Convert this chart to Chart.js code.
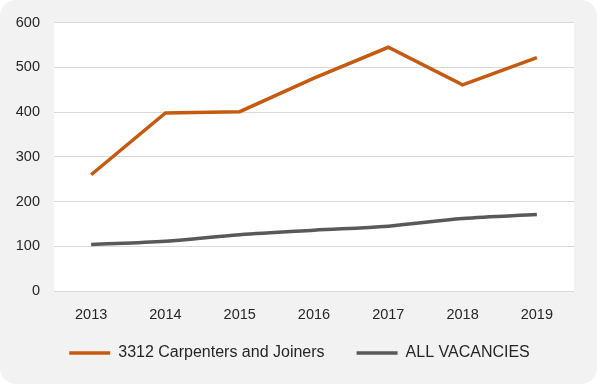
<!DOCTYPE html>
<html>
<head>
<meta charset="utf-8">
<script src="https://cdn.jsdelivr.net/npm/chart.js@4.4.1/dist/chart.umd.min.js"></script>
<style>
  html, body { margin: 0; padding: 0; background: #fff; }
  #wrap { width: 597px; height: 384px; background: #f2f2f2; border-radius: 16px; }
</style>
</head>
<body>
<div id="wrap"><canvas id="chart" width="597" height="384"></canvas></div>
<script>
// chart data
var years = ["2013", "2014", "2015", "2016", "2017", "2018", "2019"];
var carpenters = [260, 398, 401, 476, 545, 461, 522];
var allVacancies = [104, 111, 126, 136, 145, 162, 171];
var yTicks = [0, 100, 200, 300, 400, 500, 600];

// white plot area behind the lines
var plotFill = {
  id: "plotFill",
  beforeDraw: function (chart) {
    var a = chart.chartArea;
    var ctx = chart.ctx;
    ctx.save();
    ctx.fillStyle = "#ffffff";
    ctx.fillRect(a.left, a.top, a.right - a.left, a.bottom - a.top);
    ctx.restore();
  }
};

var tickFont = { family: "'Liberation Sans', Arial, sans-serif", size: 14.5 };
var legendFont = { family: "'Liberation Sans', Arial, sans-serif", size: 16 };

new Chart(document.getElementById("chart"), {
  type: "line",
  data: {
    labels: years,
    datasets: [
      {
        label: "3312 Carpenters and Joiners",
        data: carpenters,
        borderColor: "#c55a11",
        backgroundColor: "#c55a11",
        borderWidth: 3.5,
        pointRadius: 0,
        tension: 0
      },
      {
        label: "ALL VACANCIES",
        data: allVacancies,
        borderColor: "#595959",
        backgroundColor: "#595959",
        borderWidth: 3.5,
        pointRadius: 0,
        cubicInterpolationMode: "monotone"
      }
    ]
  },
  options: {
    responsive: false,
    animation: false,
    layout: { padding: { top: 22, left: 2, right: 0, bottom: 13 } },
    plugins: {
      tooltip: { enabled: false },
      legend: {
        position: "bottom",
        labels: {
          font: legendFont,
          color: "#262626",
          boxWidth: 41,
          boxHeight: 3.5,
          padding: 32,
          // thin line sample instead of an outlined box
          generateLabels: function (chart) {
            var items = Chart.defaults.plugins.legend.labels.generateLabels(chart);
            items.forEach(function (item) { item.lineWidth = 0; });
            return items;
          }
        }
      }
    },
    scales: {
      x: {
        offset: true,
        grid: { display: false, drawTicks: false },
        border: { display: false },
        ticks: { font: tickFont, color: "#262626", padding: 15, maxRotation: 0 },
        afterFit: function (s) {
          s.height = 22;
          // labels run below the short axis box, so don't clip them
          s._computeLabelArea = function () { return null; };
        }
      },
      y: {
        min: 0,
        max: 600,
        afterBuildTicks: function (s) {
          s.ticks = yTicks.map(function (v) { return { value: v }; });
        },
        grid: { color: "#d9d9d9", lineWidth: 1, drawTicks: false },
        border: { display: false },
        ticks: { font: tickFont, color: "#262626", padding: 14 },
        afterFit: function (s) { s.width = 52; }
      },
      yRight: {
        position: "right",
        grid: { display: false },
        border: { display: false },
        ticks: { display: false },
        afterFit: function (s) { s.width = 23; }
      }
    }
  },
  plugins: [plotFill]
});
</script>
</body>
</html>
